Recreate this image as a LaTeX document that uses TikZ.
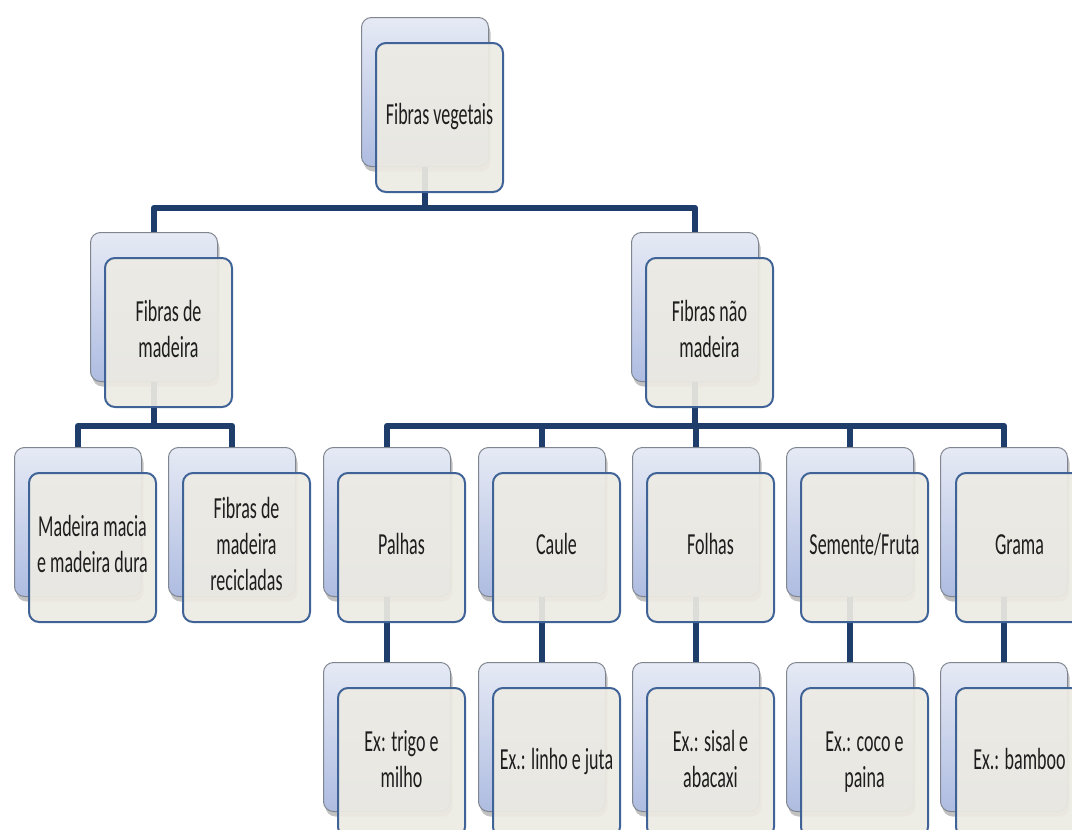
\documentclass[tikz,border=0pt]{standalone}
\usepackage{fontspec}
\usepackage{graphicx}
\setmainfont{Carlito}
\usetikzlibrary{shadows}
\definecolor{backtop}{HTML}{E6EAF5}
\definecolor{backbot}{HTML}{AEBCE1}
\definecolor{backdraw}{HTML}{80868F}
\definecolor{frontfill}{HTML}{EDEBE3}
\definecolor{frontdraw}{HTML}{3F6396}
\definecolor{conncol}{HTML}{1F3D6B}
\definecolor{txtcol}{HTML}{1E1E1E}
\newcommand{\lbl}[1]{\scalebox{1}[1.7]{\begin{tabular}{@{}c@{}}#1\end{tabular}}}
\tikzset{
  backbox/.style={draw=backdraw, line width=1pt, rounded corners=10pt,
    top color=backtop, bottom color=backbot,
    minimum width=127pt, minimum height=149pt, inner sep=0pt, anchor=north west,
    drop shadow={shadow xshift=2pt, shadow yshift=-5pt, opacity=0.4, fill=black!60}},
  frontbox/.style={draw=frontdraw, line width=2pt, rounded corners=10pt,
    fill=frontfill, fill opacity=0.92, text opacity=1,
    minimum width=127pt, minimum height=149pt, inner sep=0pt, anchor=north west,
    text=txtcol, font=\fontsize{18}{21}\selectfont},
  conn/.style={draw=conncol, line width=6.5pt, line join=round}
}
\begin{document}
\begin{tikzpicture}[x=1pt, y=-1pt]
\useasboundingbox (0,0) rectangle (1072,830);
\clip (0,0) rectangle (1072,830);
% back boxes
\node[backbox] (bT) at (361,17) {};
\node[backbox] (bW) at (90,232) {};
\node[backbox] (bN) at (631,232) {};
\node[backbox] (bW1) at (14,447) {};
\node[backbox] (bW2) at (168,447) {};
\node[backbox] (bN1) at (323,447) {};
\node[backbox] (bN2) at (478,447) {};
\node[backbox] (bN3) at (632,447) {};
\node[backbox] (bN4) at (786,447) {};
\node[backbox] (bN5) at (940,447) {};
\node[backbox] (bE1) at (323,662) {};
\node[backbox] (bE2) at (478,662) {};
\node[backbox] (bE3) at (632,662) {};
\node[backbox] (bE4) at (786,662) {};
\node[backbox] (bE5) at (940,662) {};
% connectors
\draw[conn] (bT.south) -- ++(0,41) -| (bW.north);
\draw[conn] (bT.south) -- ++(0,41) -| (bN.north);
\draw[conn] (bW.south) -- ++(0,44) -| (bW1.north);
\draw[conn] (bW.south) -- ++(0,44) -| (bW2.north);
\draw[conn] (bN.south) -- ++(0,44) -| (bN1.north);
\draw[conn] (bN.south) -- ++(0,44) -| (bN2.north);
\draw[conn] (bN.south) -- ++(0,44) -| (bN3.north);
\draw[conn] (bN.south) -- ++(0,44) -| (bN4.north);
\draw[conn] (bN.south) -- ++(0,44) -| (bN5.north);
\draw[conn] (bN1.south) -- (bE1.north);
\draw[conn] (bN2.south) -- (bE2.north);
\draw[conn] (bN3.south) -- (bE3.north);
\draw[conn] (bN4.south) -- (bE4.north);
\draw[conn] (bN5.south) -- (bE5.north);
% front boxes
\node[frontbox] (fT) at (375,42) {\lbl{Fibras vegetais}};
\node[frontbox] (fW) at (104,257) {\lbl{Fibras de\\madeira}};
\node[frontbox] (fN) at (645,257) {\lbl{Fibras não\\madeira}};
\node[frontbox] (fW1) at (28,472) {\lbl{Madeira macia\\e madeira dura}};
\node[frontbox] (fW2) at (182,472) {\lbl{Fibras de\\madeira\\recicladas}};
\node[frontbox] (fN1) at (337,472) {\lbl{Palhas}};
\node[frontbox] (fN2) at (492,472) {\lbl{Caule}};
\node[frontbox] (fN3) at (646,472) {\lbl{Folhas}};
\node[frontbox] (fN4) at (800,472) {\lbl{Semente/Fruta}};
\node[frontbox] (fN5) at (955,472) {\lbl{Grama}};
\node[frontbox] (fE1) at (337,687) {\lbl{Ex: trigo e\\milho}};
\node[frontbox] (fE2) at (492,687) {\lbl{Ex.: linho e juta}};
\node[frontbox] (fE3) at (646,687) {\lbl{Ex.: sisal e\\abacaxi}};
\node[frontbox] (fE4) at (800,687) {\lbl{Ex.: coco e\\paina}};
\node[frontbox] (fE5) at (955,687) {\lbl{Ex.: bamboo}};
\end{tikzpicture}
\end{document}
